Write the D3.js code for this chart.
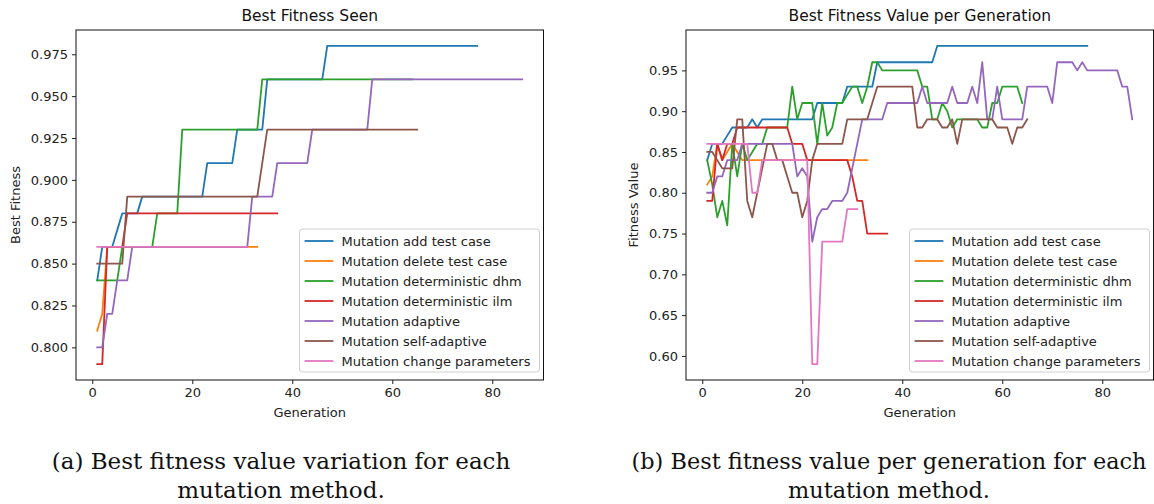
<!DOCTYPE html>
<html>
<head>
<meta charset="utf-8">
<script src="https://cdn.jsdelivr.net/npm/d3@7"></script>
<style>
  html, body { margin: 0; padding: 0; background: #fff; }
  svg { display: block; }
</style>
</head>
<body>
<svg id="chart" width="1154" height="504"></svg>
<script>
// ---------------- DATA ----------------
const seriesNames = [
  "Mutation add test case",
  "Mutation delete test case",
  "Mutation deterministic dhm",
  "Mutation deterministic ilm",
  "Mutation adaptive",
  "Mutation self-adaptive",
  "Mutation change parameters"
];
const seriesColors = ["#1f77b4", "#ff7f0e", "#2ca02c", "#d62728", "#9467bd", "#8c564b", "#e377c2"];

// Fitness value per generation (right panel), generation 1..N
const genAddTestCase = [
  0.84,0.86,0.86,0.86,0.87,0.88,0.88,0.88,0.88,0.89,
  0.88,0.89,0.89,0.89,0.89,0.89,0.89,0.89,0.89,0.89,
  0.89,0.89,0.91,0.91,0.91,0.91,0.91,0.91,0.93,0.93,
  0.93,0.93,0.93,0.93,0.96,0.96,0.96,0.96,0.96,0.96,
  0.96,0.96,0.96,0.96,0.96,0.96,0.98,0.98,0.98,0.98,
  0.98,0.98,0.98,0.98,0.98,0.98,0.98,0.98,0.98,0.98,
  0.98,0.98,0.98,0.98,0.98,0.98,0.98,0.98,0.98,0.98,
  0.98,0.98,0.98,0.98,0.98,0.98,0.98
];
const genDeleteTestCase = [
  0.81,0.82,0.86,0.84,0.85,0.86,0.85,0.84,0.84,0.84,
  0.84,0.84,0.84,0.84,0.84,0.84,0.84,0.84,0.84,0.84,
  0.84,0.84,0.84,0.84,0.84,0.84,0.84,0.84,0.84,0.84,
  0.84,0.84,0.84
];
const genDeterministicDhm = [
  0.84,0.81,0.77,0.79,0.76,0.86,0.82,0.86,0.84,0.85,
  0.86,0.86,0.88,0.88,0.88,0.88,0.88,0.93,0.89,0.91,
  0.91,0.91,0.86,0.91,0.87,0.88,0.91,0.91,0.92,0.93,
  0.93,0.91,0.93,0.96,0.96,0.95,0.95,0.95,0.95,0.95,
  0.95,0.95,0.95,0.93,0.93,0.89,0.89,0.91,0.90,0.88,
  0.89,0.89,0.89,0.89,0.89,0.88,0.88,0.91,0.91,0.93,
  0.93,0.93,0.93,0.91
];
const genDeterministicIlm = [
  0.79,0.79,0.86,0.84,0.86,0.86,0.88,0.88,0.88,0.88,
  0.88,0.88,0.88,0.88,0.88,0.88,0.88,0.86,0.86,0.86,
  0.84,0.84,0.84,0.84,0.84,0.84,0.84,0.84,0.84,0.82,
  0.79,0.79,0.75,0.75,0.75,0.75,0.75
];
const genAdaptive = [
  0.80,0.80,0.82,0.82,0.84,0.84,0.84,0.86,0.86,0.86,
  0.86,0.86,0.86,0.86,0.86,0.86,0.86,0.86,0.82,0.83,
  0.82,0.74,0.77,0.78,0.78,0.79,0.79,0.79,0.80,0.83,
  0.86,0.89,0.89,0.89,0.89,0.89,0.91,0.91,0.91,0.91,
  0.91,0.91,0.91,0.93,0.91,0.91,0.91,0.91,0.91,0.93,
  0.91,0.91,0.91,0.93,0.91,0.96,0.89,0.89,0.93,0.89,
  0.89,0.89,0.89,0.89,0.93,0.93,0.93,0.93,0.93,0.91,
  0.96,0.96,0.96,0.96,0.95,0.96,0.95,0.95,0.95,0.95,
  0.95,0.95,0.95,0.93,0.93,0.89
];
const genSelfAdaptive = [
  0.85,0.85,0.84,0.83,0.83,0.83,0.89,0.89,0.79,0.77,
  0.80,0.83,0.86,0.86,0.84,0.84,0.82,0.80,0.80,0.77,
  0.79,0.84,0.86,0.86,0.86,0.86,0.86,0.86,0.89,0.89,
  0.89,0.89,0.89,0.91,0.93,0.93,0.93,0.93,0.93,0.93,
  0.93,0.93,0.88,0.88,0.89,0.89,0.89,0.88,0.88,0.89,
  0.86,0.89,0.89,0.89,0.89,0.89,0.89,0.89,0.88,0.88,
  0.88,0.86,0.88,0.88,0.89
];
const genChangeParameters = [
  0.86,0.86,0.86,0.86,0.86,0.86,0.86,0.86,0.86,0.80,
  0.80,0.84,0.84,0.84,0.84,0.84,0.84,0.84,0.84,0.84,
  0.84,0.59,0.59,0.74,0.74,0.74,0.74,0.74,0.78,0.78,
  0.78
];

// Best fitness seen so far (left panel), generation 1..N
const bestAddTestCase = [
  0.84,0.86,0.86,0.86,0.87,0.88,0.88,0.88,0.88,0.89,
  0.89,0.89,0.89,0.89,0.89,0.89,0.89,0.89,0.89,0.89,
  0.89,0.89,0.91,0.91,0.91,0.91,0.91,0.91,0.93,0.93,
  0.93,0.93,0.93,0.93,0.96,0.96,0.96,0.96,0.96,0.96,
  0.96,0.96,0.96,0.96,0.96,0.96,0.98,0.98,0.98,0.98,
  0.98,0.98,0.98,0.98,0.98,0.98,0.98,0.98,0.98,0.98,
  0.98,0.98,0.98,0.98,0.98,0.98,0.98,0.98,0.98,0.98,
  0.98,0.98,0.98,0.98,0.98,0.98,0.98
];
const bestDeleteTestCase = [
  0.81,0.82,0.86,0.86,0.86,0.86,0.86,0.86,0.86,0.86,
  0.86,0.86,0.86,0.86,0.86,0.86,0.86,0.86,0.86,0.86,
  0.86,0.86,0.86,0.86,0.86,0.86,0.86,0.86,0.86,0.86,
  0.86,0.86,0.86
];
const bestDeterministicDhm = [
  0.84,0.84,0.84,0.84,0.84,0.86,0.86,0.86,0.86,0.86,
  0.86,0.86,0.88,0.88,0.88,0.88,0.88,0.93,0.93,0.93,
  0.93,0.93,0.93,0.93,0.93,0.93,0.93,0.93,0.93,0.93,
  0.93,0.93,0.93,0.96,0.96,0.96,0.96,0.96,0.96,0.96,
  0.96,0.96,0.96,0.96,0.96,0.96,0.96,0.96,0.96,0.96,
  0.96,0.96,0.96,0.96,0.96,0.96,0.96,0.96,0.96,0.96,
  0.96,0.96,0.96,0.96
];
const bestDeterministicIlm = [
  0.79,0.79,0.86,0.86,0.86,0.86,0.88,0.88,0.88,0.88,
  0.88,0.88,0.88,0.88,0.88,0.88,0.88,0.88,0.88,0.88,
  0.88,0.88,0.88,0.88,0.88,0.88,0.88,0.88,0.88,0.88,
  0.88,0.88,0.88,0.88,0.88,0.88,0.88
];
const bestAdaptive = [
  0.80,0.80,0.82,0.82,0.84,0.84,0.84,0.86,0.86,0.86,
  0.86,0.86,0.86,0.86,0.86,0.86,0.86,0.86,0.86,0.86,
  0.86,0.86,0.86,0.86,0.86,0.86,0.86,0.86,0.86,0.86,
  0.86,0.89,0.89,0.89,0.89,0.89,0.91,0.91,0.91,0.91,
  0.91,0.91,0.91,0.93,0.93,0.93,0.93,0.93,0.93,0.93,
  0.93,0.93,0.93,0.93,0.93,0.96,0.96,0.96,0.96,0.96,
  0.96,0.96,0.96,0.96,0.96,0.96,0.96,0.96,0.96,0.96,
  0.96,0.96,0.96,0.96,0.96,0.96,0.96,0.96,0.96,0.96,
  0.96,0.96,0.96,0.96,0.96,0.96
];
const bestSelfAdaptive = [
  0.85,0.85,0.85,0.85,0.85,0.85,0.89,0.89,0.89,0.89,
  0.89,0.89,0.89,0.89,0.89,0.89,0.89,0.89,0.89,0.89,
  0.89,0.89,0.89,0.89,0.89,0.89,0.89,0.89,0.89,0.89,
  0.89,0.89,0.89,0.91,0.93,0.93,0.93,0.93,0.93,0.93,
  0.93,0.93,0.93,0.93,0.93,0.93,0.93,0.93,0.93,0.93,
  0.93,0.93,0.93,0.93,0.93,0.93,0.93,0.93,0.93,0.93,
  0.93,0.93,0.93,0.93,0.93
];
const bestChangeParameters = [
  0.86,0.86,0.86,0.86,0.86,0.86,0.86,0.86,0.86,0.86,
  0.86,0.86,0.86,0.86,0.86,0.86,0.86,0.86,0.86,0.86,
  0.86,0.86,0.86,0.86,0.86,0.86,0.86,0.86,0.86,0.86,
  0.86
];

const xTicks = [0, 20, 40, 60, 80];
const leftYTicks = [0.800, 0.825, 0.850, 0.875, 0.900, 0.925, 0.950, 0.975];
const rightYTicks = [0.60, 0.65, 0.70, 0.75, 0.80, 0.85, 0.90, 0.95];

const leftSeries = [bestAddTestCase, bestDeleteTestCase, bestDeterministicDhm, bestDeterministicIlm,
                    bestAdaptive, bestSelfAdaptive, bestChangeParameters];
const rightSeries = [genAddTestCase, genDeleteTestCase, genDeterministicDhm, genDeterministicIlm,
                     genAdaptive, genSelfAdaptive, genChangeParameters];

const captionA = ["(a) Best fitness value variation for each", "mutation method."];
const captionB = ["(b) Best fitness value per generation for each", "mutation method."];

// ---------------- DRAW ----------------
const svg = d3.select("#chart");
const SANS = "'DejaVu Sans', sans-serif";
const SERIF = "'DejaVu Serif', serif";

function panel(opt) {
  const g = svg.append("g");
  const x = d3.scaleLinear().domain([-3.25, 90.25]).range([opt.left, opt.right]);
  const y = d3.scaleLinear().domain(opt.yDomain).range([opt.bottom, opt.top]);

  // lines
  const line = d3.line().x((d, i) => x(i + 1)).y(d => y(d));
  opt.series.forEach((s, k) => {
    g.append("path")
      .datum(s)
      .attr("fill", "none")
      .attr("stroke", seriesColors[k])
      .attr("stroke-width", 1.8)
      .attr("stroke-linejoin", "round")
      .attr("stroke-linecap", "square")
      .attr("d", line);
  });

  // axes
  const xAxis = d3.axisBottom(x).tickValues(xTicks).tickFormat(d3.format("d")).tickSizeOuter(0).tickSize(4).tickPadding(4);
  const yAxis = d3.axisLeft(y).tickValues(opt.yTicks).tickFormat(d3.format(opt.yFmt)).tickSizeOuter(0).tickSize(4).tickPadding(4);
  const gx = g.append("g").attr("transform", `translate(0,${opt.bottom})`).call(xAxis);
  const gy = g.append("g").attr("transform", `translate(${opt.left},0)`).call(yAxis);
  [gx, gy].forEach(a => {
    a.select(".domain").remove();
    a.selectAll("text").attr("font-family", SANS).attr("font-size", 13).attr("fill", "#222");
    a.selectAll("line").attr("stroke", "#222");
  });

  // frame
  g.append("rect")
    .attr("x", opt.left).attr("y", opt.top)
    .attr("width", opt.right - opt.left).attr("height", opt.bottom - opt.top)
    .attr("fill", "none").attr("stroke", "#111").attr("stroke-width", 1);

  // title
  g.append("text")
    .attr("x", (opt.left + opt.right) / 2).attr("y", opt.top - 9)
    .attr("text-anchor", "middle").attr("font-family", SANS).attr("font-size", 15.5).attr("fill", "#111")
    .text(opt.title);
  // x label
  g.append("text")
    .attr("x", (opt.left + opt.right) / 2).attr("y", opt.bottom + 37)
    .attr("text-anchor", "middle").attr("font-family", SANS).attr("font-size", 13).attr("fill", "#222")
    .text("Generation");
  // y label
  g.append("text")
    .attr("transform", `translate(${opt.ylabelX},${(opt.top + opt.bottom) / 2}) rotate(-90)`)
    .attr("text-anchor", "middle").attr("font-family", SANS).attr("font-size", 13).attr("fill", "#222")
    .text(opt.ylabel);

  // legend
  const lw = 240, lh = 143;
  const lx = opt.right - 4 - lw, ly = opt.bottom - 8 - lh;
  const lg = g.append("g").attr("transform", `translate(${lx},${ly})`);
  lg.append("rect").attr("width", lw).attr("height", lh).attr("rx", 3)
    .attr("fill", "rgba(255,255,255,0.8)").attr("stroke", "#d0d0d0").attr("stroke-width", 1);
  seriesNames.forEach((name, k) => {
    const cy = 12 + k * 20;
    lg.append("line").attr("x1", 6).attr("x2", 33).attr("y1", cy).attr("y2", cy)
      .attr("stroke", seriesColors[k]).attr("stroke-width", 1.8).attr("stroke-linecap", "square");
    lg.append("text").attr("x", 42).attr("y", cy + 4.5)
      .attr("font-family", SANS).attr("font-size", 13).attr("fill", "#222").text(name);
  });

  // caption
  opt.caption.forEach((t, i) => {
    svg.append("text")
      .attr("x", opt.capX).attr("y", 469 + i * 29)
      .attr("text-anchor", "middle").attr("font-family", SERIF).attr("font-size", opt.capSize).attr("fill", "#111")
      .text(t);
  });
}

panel({
  left: 76, right: 543.5, top: 30, bottom: 380,
  yDomain: [0.7805, 0.9895], yTicks: leftYTicks, yFmt: ".3f",
  title: "Best Fitness Seen", ylabel: "Best Fitness", ylabelX: 20,
  series: leftSeries, caption: captionA, capX: 281, capSize: 23
});
panel({
  left: 686, right: 1153.5, top: 30, bottom: 380,
  yDomain: [0.5705, 0.9995], yTicks: rightYTicks, yFmt: ".2f",
  title: "Best Fitness Value per Generation", ylabel: "Fitness Value", ylabelX: 638,
  series: rightSeries, caption: captionB, capX: 889, capSize: 22.4
});
</script>
</body>
</html>
